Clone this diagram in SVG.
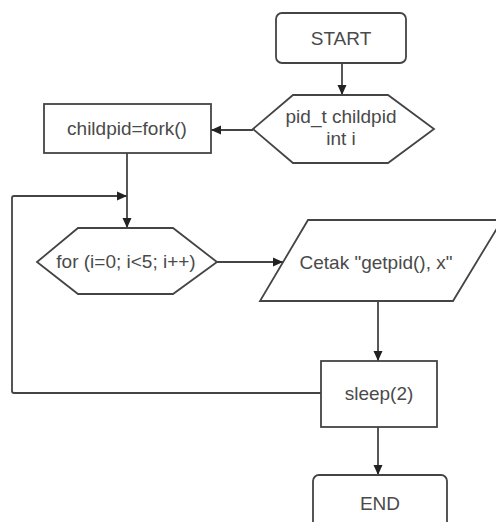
<svg xmlns="http://www.w3.org/2000/svg" width="496" height="522" viewBox="0 0 496 522">
  <style>
    .shape { fill: #ffffff; stroke: #444444; stroke-width: 1.8; }
    .edge { fill: none; stroke: #444444; stroke-width: 1.8; stroke-linejoin: round; }
    .label { font-family: "Liberation Sans", Arial, sans-serif; font-size: 19px; fill: #4a4a4a; text-anchor: middle; }
  </style>
  <defs>
    <marker id="arrow" markerUnits="userSpaceOnUse" markerWidth="12" markerHeight="12" viewBox="0 0 12 12" refX="11" refY="6" orient="auto">
      <path d="M1,1.5 L11,6 L1,10.5 Z" fill="#222222"/>
    </marker>
  </defs>
  <rect width="496" height="522" fill="#ffffff"/>

  <g id="connectors">
    <line class="edge" x1="342" y1="63" x2="342" y2="95" marker-end="url(#arrow)"/>
    <line class="edge" x1="253" y1="130" x2="211" y2="130" marker-end="url(#arrow)"/>
    <line class="edge" x1="127" y1="153" x2="127" y2="228" marker-end="url(#arrow)"/>
    <line class="edge" x1="217" y1="262" x2="283" y2="262" marker-end="url(#arrow)"/>
    <line class="edge" x1="378" y1="301" x2="378" y2="361" marker-end="url(#arrow)"/>
    <line class="edge" x1="378" y1="427" x2="378" y2="475" marker-end="url(#arrow)"/>
    <path class="edge" d="M321,393 L14,393 Q12,393 12,391 L12,198 Q12,196 14,196 L127,196" marker-end="url(#arrow)"/>
  </g>

  <g id="start">
    <rect class="shape" x="276" y="13" width="130" height="50" rx="6"/>
    <text class="label" x="341" y="45">START</text>
  </g>

  <g id="declare">
    <polygon class="shape" points="293,95 388,95 434,129 388,163 293,163 253,129"/>
    <text class="label" x="341" y="123">pid_t childpid</text>
    <text class="label" x="341" y="145">int i</text>
  </g>

  <g id="fork">
    <rect class="shape" x="44" y="104" width="167" height="49"/>
    <text class="label" x="127" y="135">childpid=fork()</text>
  </g>

  <g id="loop">
    <polygon class="shape" points="78,228 173,228 217,262 173,294 78,294 37,262"/>
    <text class="label" x="126" y="268">for (i=0; i&lt;5; i++)</text>
  </g>

  <g id="print">
    <polygon class="shape" points="308,220 502,220 453,301 260,301"/>
    <text class="label" x="376" y="269">Cetak "getpid(), x"</text>
  </g>

  <g id="sleep">
    <rect class="shape" x="321" y="361" width="116" height="66"/>
    <text class="label" x="379" y="400">sleep(2)</text>
  </g>

  <g id="end">
    <rect class="shape" x="313" y="475" width="134" height="52" rx="6"/>
    <text class="label" x="380" y="510">END</text>
  </g>
</svg>
